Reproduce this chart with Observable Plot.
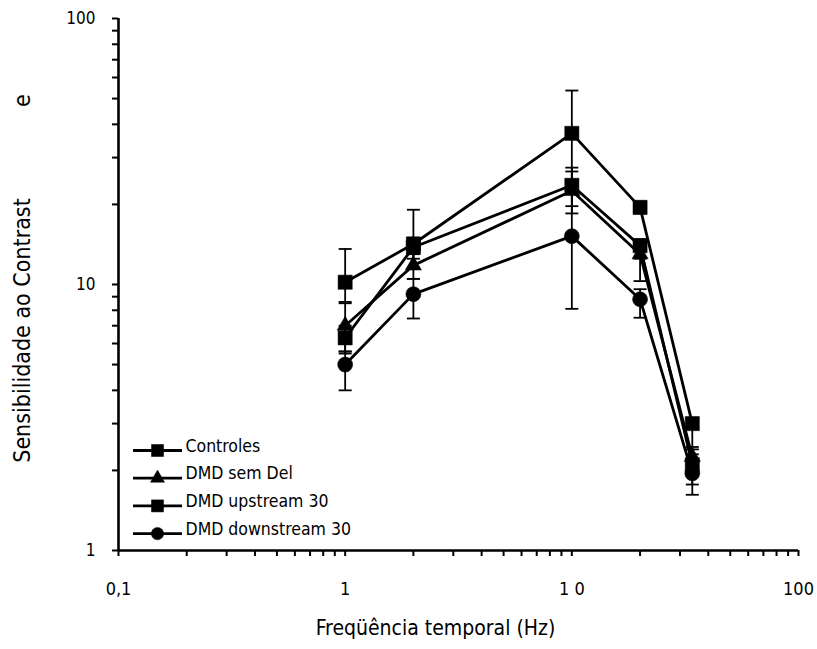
<!DOCTYPE html>
<html>
<head>
<meta charset="utf-8">
<script src="https://cdn.jsdelivr.net/npm/d3@7"></script>
<script src="https://cdn.jsdelivr.net/npm/@observablehq/plot@0.6"></script>
<style>
  html, body { margin: 0; padding: 0; background: #fff; }
  #chart { width: 817px; height: 649px; }
</style>
</head>
<body>
<div id="chart"></div>
<script>
const freqs = [1, 2, 10, 20, 34];
const seriesNames = ["Controles", "DMD sem Del", "DMD upstream 30", "DMD downstream 30"];
const seriesSymbols = ["square", "triangle", "square", "circle"];

const controles   = [10.2, 14.2, 37.0, 19.5, 3.0];
const controlesLo = [8.6, 11.5, 24.0, 18.5, 2.4];
const controlesHi = [13.6, 19.1, 53.6, 20.5, 3.1];

const semDel   = [7.0, 11.8, 22.5, 13.0, 2.25];
const semDelLo = [5.5, 10.5, 18.5, 10.3, 1.77];
const semDelHi = [8.5, 13.0, 26.6, 14.0, 2.45];

const upstream   = [6.3, 13.8, 23.6, 14.0, 2.1];
const upstreamLo = [5.6, 12.5, 19.7, 12.5, 1.9];
const upstreamHi = [7.0, 15.0, 27.5, 14.8, 2.3];

const downstream   = [5.0, 9.2, 15.2, 8.8, 1.95];
const downstreamLo = [4.0, 7.45, 8.1, 7.5, 1.62];
const downstreamHi = [5.6, 10.5, 22.0, 9.6, 2.2];

const xMajor = [0.1, 1, 10, 100];
const xMajorLabels = ["0,1", "1", "1 0", "100"];
const xMinor = [0.2,0.3,0.4,0.5,0.6,0.7,0.8,0.9, 2,3,4,5,6,7,8,9, 20,30,40,50,60,70,80,90];
const yMajor = [1, 10, 100];
const yMajorLabels = ["1", "10", "100"];
const yMinor = [2,3,4,5,6,7,8,9, 20,30,40,50,60,70,80,90];

const xTitle = "Freqüência temporal (Hz)";
const yTitle = "Sensibilidade ao Contrast";
const yTitleExtra = "e";

const allValues = [controles, semDel, upstream, downstream];
const allLo = [controlesLo, semDelLo, upstreamLo, downstreamLo];
const allHi = [controlesHi, semDelHi, upstreamHi, downstreamHi];

const series = seriesNames.map((name, s) =>
  freqs.map((f, i) => ({name, f, v: allValues[s][i], lo: allLo[s][i], hi: allHi[s][i]}))
);
const allRows = series.flat();

const capSymbol = {
  draw(context) { context.moveTo(-6.5, 0); context.lineTo(6.5, 0); }
};
const legendLineSymbol = {
  draw(context) { context.moveTo(-24.5, 0); context.lineTo(24.5, 0); }
};
const dotR = {square: 8, triangle: 6, circle: 7.5};
const legendR = {square: 6.8, triangle: 5.2, circle: 6.2};

const marks = [];
// axes lines
marks.push(Plot.ruleY([1], {stroke: "black", strokeWidth: 2.6}));
marks.push(Plot.ruleX([0.1], {stroke: "black", strokeWidth: 2.6}));
// ticks
marks.push(Plot.axisX({ticks: xMinor, tickSize: 6, tickFormat: () => "", strokeWidth: 2, label: null}));
marks.push(Plot.axisX({ticks: xMajor, tickSize: 6, tickPadding: 26, strokeWidth: 2, label: null,
  tickFormat: d => xMajorLabels[xMajor.indexOf(d)], fontSize: 18}));
marks.push(Plot.axisY({ticks: yMinor, tickSize: 6, tickFormat: () => "", strokeWidth: 2, label: null}));
marks.push(Plot.axisY({ticks: yMajor, tickSize: 6, tickPadding: 17, strokeWidth: 2, label: null,
  tickFormat: d => yMajorLabels[yMajor.indexOf(d)], fontSize: 17}));

// error bars
marks.push(Plot.ruleX(allRows, {x: "f", y1: "lo", y2: "hi", stroke: "black", strokeWidth: 1.8}));
marks.push(Plot.dot(allRows, {x: "f", y: "lo", symbol: capSymbol, r: 5, fill: "none", stroke: "black", strokeWidth: 1.8}));
marks.push(Plot.dot(allRows, {x: "f", y: "hi", symbol: capSymbol, r: 5, fill: "none", stroke: "black", strokeWidth: 1.8}));

// lines and markers
series.forEach((rows) => {
  marks.push(Plot.line(rows, {x: "f", y: "v", stroke: "black", strokeWidth: 2.8}));
});
series.forEach((rows, s) => {
  const sym = seriesSymbols[s];
  marks.push(Plot.dot(rows, {x: "f", y: "v", symbol: sym, r: dotR[sym], fill: "black", stroke: "black", strokeWidth: 0.5}));
});

// legend (inside plot, bottom-left)
seriesNames.forEach((name, i) => {
  const dy = -100 + i * 27.7;
  const sym = seriesSymbols[i];
  marks.push(Plot.dot([name], {frameAnchor: "bottom-left", dx: 39, dy, symbol: legendLineSymbol, r: 5, fill: "none", stroke: "black", strokeWidth: 2.8}));
  marks.push(Plot.dot([name], {frameAnchor: "bottom-left", dx: 39, dy, symbol: sym, r: legendR[sym], fill: "black", stroke: "black", strokeWidth: 0.5}));
  marks.push(Plot.text([name], {frameAnchor: "bottom-left", dx: 67, dy: dy + 1, text: d => d, textAnchor: "start", fontSize: 17.5, fill: "black"}));
});

// titles
marks.push(Plot.text([xTitle], {frameAnchor: "bottom", dx: -23, dy: 84, text: d => d, textAnchor: "middle", fontSize: 21, fill: "black"}));
marks.push(Plot.text([yTitle], {frameAnchor: "left", dx: -96, dy: 46, rotate: -90, text: d => d, textAnchor: "middle", fontSize: 23, fill: "black"}));
marks.push(Plot.text([yTitleExtra], {frameAnchor: "left", dx: -96, dy: -184, rotate: -90, text: d => d, textAnchor: "middle", fontSize: 23, fill: "black"}));

const chart = Plot.plot({
  width: 817,
  height: 649,
  marginLeft: 118,
  marginRight: 19,
  marginTop: 18,
  marginBottom: 99,
  style: {fontFamily: "'DejaVu Sans Condensed', 'DejaVu Sans', sans-serif", fontSize: "16px", background: "white", color: "black"},
  x: {type: "log", domain: [0.1, 100], axis: null},
  y: {type: "log", domain: [1, 100], axis: null},
  marks
});
document.getElementById("chart").appendChild(chart);
</script>
</body>
</html>
